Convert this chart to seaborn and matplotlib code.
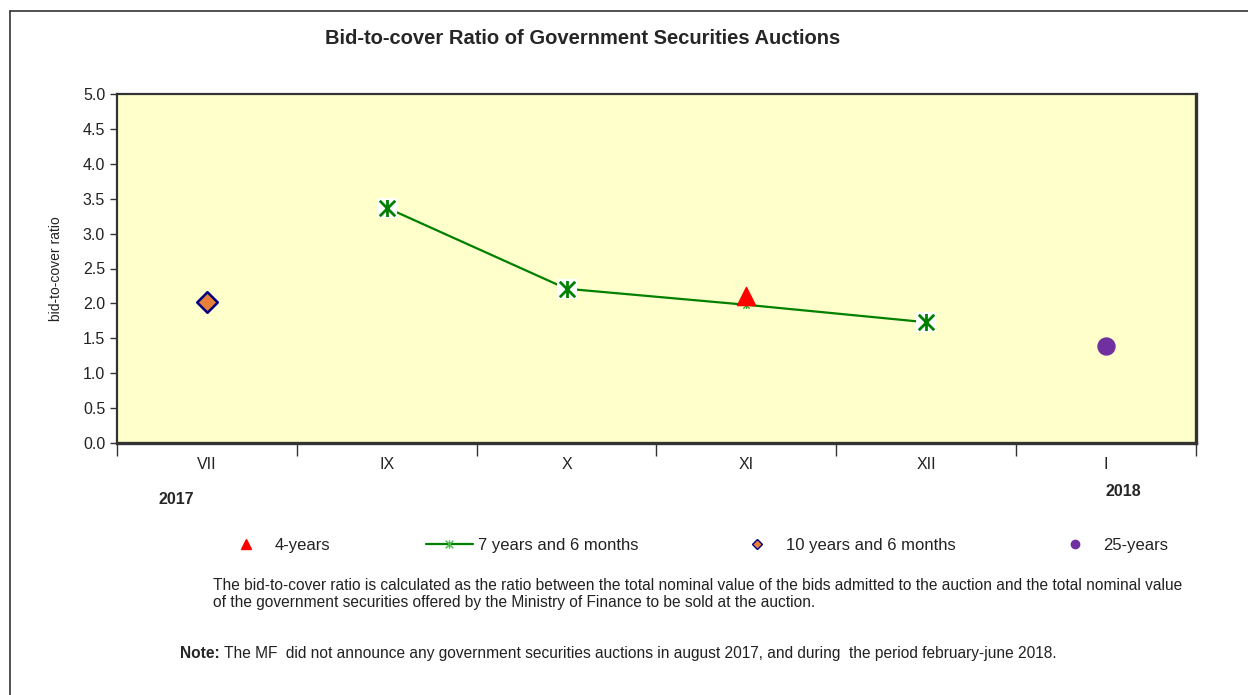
import numpy as np
import pandas as pd
import matplotlib.pyplot as plt
from matplotlib.lines import Line2D
from matplotlib.path import Path
import seaborn as sns

# Data
months = ['VII', 'IX', 'X', 'XI', 'XII', 'I']
y_4years = [np.nan, np.nan, np.nan, 2.10, np.nan, np.nan]
y_7y6m = [np.nan, 3.37, 2.21, 1.98, 1.73, np.nan]
y_10y6m = [2.02, np.nan, np.nan, np.nan, np.nan, np.nan]
y_25years = [np.nan, np.nan, np.nan, np.nan, np.nan, 1.39]

df = pd.DataFrame({'pos': range(len(months)), 'month': months,
                   '4-years': y_4years, '7y6m': y_7y6m,
                   '10y6m': y_10y6m, '25-years': y_25years})

sns.set_style('white')
plt.rcParams['font.family'] = ['Liberation Sans', 'DejaVu Sans']

fig = plt.figure(figsize=(12.48, 6.95), dpi=100)
ax = fig.add_axes([117 / 1248, 1 - 443 / 695, 1079 / 1248, 349 / 695])
ax.set_facecolor('#FFFFCC')

green = '#008000'
# excel-like star: an X with a vertical bar through it
star = Path([(-1, -1), (1, 1), (-1, 1), (1, -1), (0, -1.1), (0, 1.1)],
            [Path.MOVETO, Path.LINETO, Path.MOVETO, Path.LINETO, Path.MOVETO, Path.LINETO])

# 7 years and 6 months line
d7 = df.dropna(subset=['7y6m'])
sns.lineplot(data=d7, x='pos', y='7y6m', color=green, linewidth=1.6, ax=ax, zorder=3)
big = d7[d7['month'] != 'XI']
small = d7[d7['month'] == 'XI']
ax.scatter(big['pos'], big['7y6m'], marker='s', s=220, color='white', zorder=4, linewidths=0)
sns.scatterplot(data=big, x='pos', y='7y6m', marker=star, s=150, color=green,
                edgecolor=green, linewidth=2, ax=ax, zorder=5)
sns.scatterplot(data=small, x='pos', y='7y6m', marker=star, s=25, color='#33aa33',
                edgecolor='#33aa33', linewidth=1, ax=ax, zorder=5)

# single points
sns.scatterplot(data=df, x='pos', y='4-years', marker='^', s=170, color='#FF0000',
                edgecolor='#FF0000', ax=ax, zorder=6)
sns.scatterplot(data=df, x='pos', y='10y6m', marker='D', s=110, color='#E8803A',
                edgecolor='#000080', linewidth=1.8, ax=ax, zorder=6)
sns.scatterplot(data=df, x='pos', y='25-years', marker='o', s=150, color='#7030A0',
                edgecolor='#7030A0', ax=ax, zorder=6)

ax.set_xlim(-0.5, len(months) - 0.5)
ax.set_ylim(0, 5)
ax.set_yticks(np.arange(0, 5.01, 0.5))
ax.set_yticklabels([f'{v:.1f}' for v in np.arange(0, 5.01, 0.5)])
ax.set_xticks(np.arange(-0.5, len(months), 1.0))
ax.set_xticklabels([])
ax.set_xticks(range(len(months)), minor=True)
ax.set_xticklabels(months, minor=True)
ax.tick_params(axis='x', which='major', direction='out', length=9, width=1, color='#333333', bottom=True)
ax.tick_params(axis='x', which='minor', length=0, pad=10, labelsize=11.5, labelcolor='#222222')
ax.tick_params(axis='y', direction='out', length=5, width=1, color='#333333', left=True,
               labelsize=11.5, labelcolor='#222222')
for sp in ax.spines.values():
    sp.set_visible(True)
    sp.set_color('#333333')
    sp.set_linewidth(1.6)
ax.spines['right'].set_linewidth(2.4)
ax.spines['bottom'].set_linewidth(2.4)
ax.set_xlabel('')
ax.set_ylabel('bid-to-cover ratio', fontsize=10, color='#222222', labelpad=14)

# titles and notes
fig.text(583 / 1248, 1 - 38 / 695, 'Bid-to-cover Ratio of Government Securities Auctions',
         ha='center', va='center', fontsize=14.5, fontweight='bold')
fig.text(176 / 1248, 1 - 499 / 695, '2017', ha='center', va='center', fontsize=11.5, fontweight='bold')
fig.text(1123 / 1248, 1 - 492 / 695, '2018', ha='center', va='center', fontsize=11.5, fontweight='bold')
fig.text(213 / 1248, 1 - 594 / 695,
         'The bid-to-cover ratio is calculated as the ratio between the total nominal value of the bids '
         'admitted to the auction and the total nominal value\n'
         'of the government securities offered by the Ministry of Finance to be sold at the auction.',
         ha='left', va='center', fontsize=11.2, color='#222222', linespacing=1.1)

note_y = 1 - 658 / 695
note = fig.text(180 / 1248, note_y, 'Note:', ha='left', va='baseline',
                fontsize=11.2, fontweight='bold')
fig.canvas.draw()
note_w = note.get_window_extent().width / fig.bbox.width
fig.text(180 / 1248 + note_w, note_y,
         ' The MF  did not announce any government securities auctions in august 2017, '
         'and during  the period february-june 2018.',
         ha='left', va='baseline', fontsize=11.2, color='#222222')

# legend
handles = [
    Line2D([0], [0], linestyle='none', marker='^', color='#FF0000', markersize=7),
    Line2D([0], [0], color=green, linewidth=1.6, marker=star, markersize=6,
           markeredgecolor='#44bb44', markeredgewidth=1),
    Line2D([0], [0], linestyle='none', marker='D', markerfacecolor='#E8803A',
           markeredgecolor='#000080', markersize=5.5, markeredgewidth=1),
    Line2D([0], [0], linestyle='none', marker='o', color='#7030A0', markersize=6),
]
labels = ['4-years', '7 years and 6 months', '10 years and 6 months', '25-years']
fig.legend(handles, labels, loc='center left', ncol=4, mode='expand', frameon=False,
           bbox_to_anchor=(208 / 1248, 1 - 546 / 695, 975 / 1248, 0.001),
           fontsize=12, handlelength=2.8, handletextpad=0.3, labelcolor='#222222')

# outer frame (left and top edges)
fig.add_artist(Line2D([10 / 1248, 10 / 1248], [0, 1 - 11 / 695], color='#333333', linewidth=1.2))
fig.add_artist(Line2D([10 / 1248, 1], [1 - 11 / 695, 1 - 11 / 695], color='#333333', linewidth=1.2))

fig.savefig('out.png', dpi=100)
